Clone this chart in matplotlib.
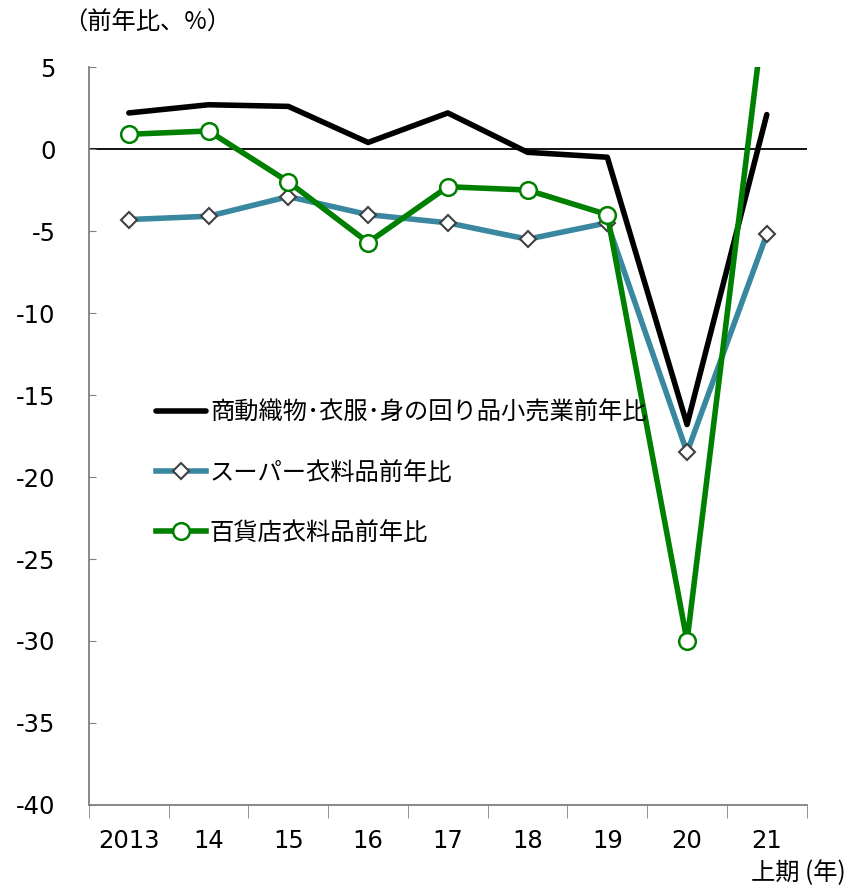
import numpy as np
import matplotlib.pyplot as plt
from matplotlib.ticker import FixedLocator

plt.rcParams['font.family'] = ['Noto Sans CJK JP', 'DejaVu Sans']

# x categories
years = ['2013', '14', '15', '16', '17', '18', '19', '20', '21']
# 商動織物・衣服・身の回り品小売業前年比
retail = [2.2, 2.7, 2.6, 0.4, 2.2, -0.2, -0.5, -16.8, 2.1]
# スーパー衣料品前年比
super_cloth = [-4.3, -4.1, -2.9, -4.0, -4.5, -5.5, -4.5, -18.5, -5.2]
# 百貨店衣料品前年比
dept_cloth = [0.9, 1.1, -2.0, -5.7, -2.3, -2.5, -4.0, -30.0, 9.6]

labels = ['商動織物･衣服･身の回り品小売業前年比', 'スーパー衣料品前年比', '百貨店衣料品前年比']

x = np.arange(len(years))

fig = plt.figure(figsize=(8.5, 8.89), dpi=100)
ax = fig.add_axes([0.1047, 0.0945, 0.8443, 0.8301])

ax.axhline(0, color='black', lw=1.3, zorder=1)

ax.plot(x, retail, color='black', lw=4, solid_capstyle='round', zorder=3, label=labels[0])
ax.plot(x, super_cloth, color='#3a87a0', lw=4, zorder=2,
        marker='D', ms=8, mfc='white', mec='#404040', mew=1.5, label=labels[1])
ax.plot(x, dept_cloth, color='#008000', lw=4, zorder=4,
        marker='o', ms=12, mfc='white', mec='#008000', mew=1.8, label=labels[2])

ax.set_xlim(-0.5, len(years) - 0.5)
ax.set_ylim(-40, 5)
ax.set_yticks(np.arange(-40, 6, 5))
ax.set_yticklabels([str(v) for v in range(-40, 6, 5)], fontsize=17.5, family='DejaVu Sans')
ax.tick_params(axis='y', direction='in', length=5, color='#808080', pad=24)

ax.set_xticks(x)
ax.set_xticklabels(years, fontsize=17.5, family='DejaVu Sans', va='top')
ax.tick_params(axis='x', which='major', length=0, pad=17)
ax.xaxis.set_minor_locator(FixedLocator(np.arange(-0.5, len(years), 1)))
ax.tick_params(axis='x', which='minor', direction='out', length=9, color='#808080')

for s in ['top', 'right']:
    ax.spines[s].set_visible(False)
for s in ['left', 'bottom']:
    ax.spines[s].set_color('#808080')
    ax.spines[s].set_linewidth(1.3)

fig.text(0.074, 0.975, '（前年比、%）', fontsize=17.5, va='center', ha='left')
fig.text(0.995, 0.018, '上期 (年)', fontsize=17.5, va='center', ha='right')

h, l = ax.get_legend_handles_labels()
ax.legend(h, l, loc='upper left', bbox_to_anchor=(0.172, 0.561),
          bbox_transform=fig.transFigure, frameon=False, fontsize=17.5,
          handlelength=2.06, handletextpad=0.16, labelspacing=1.39,
          borderaxespad=0)

fig.savefig('out.png', dpi=100)
